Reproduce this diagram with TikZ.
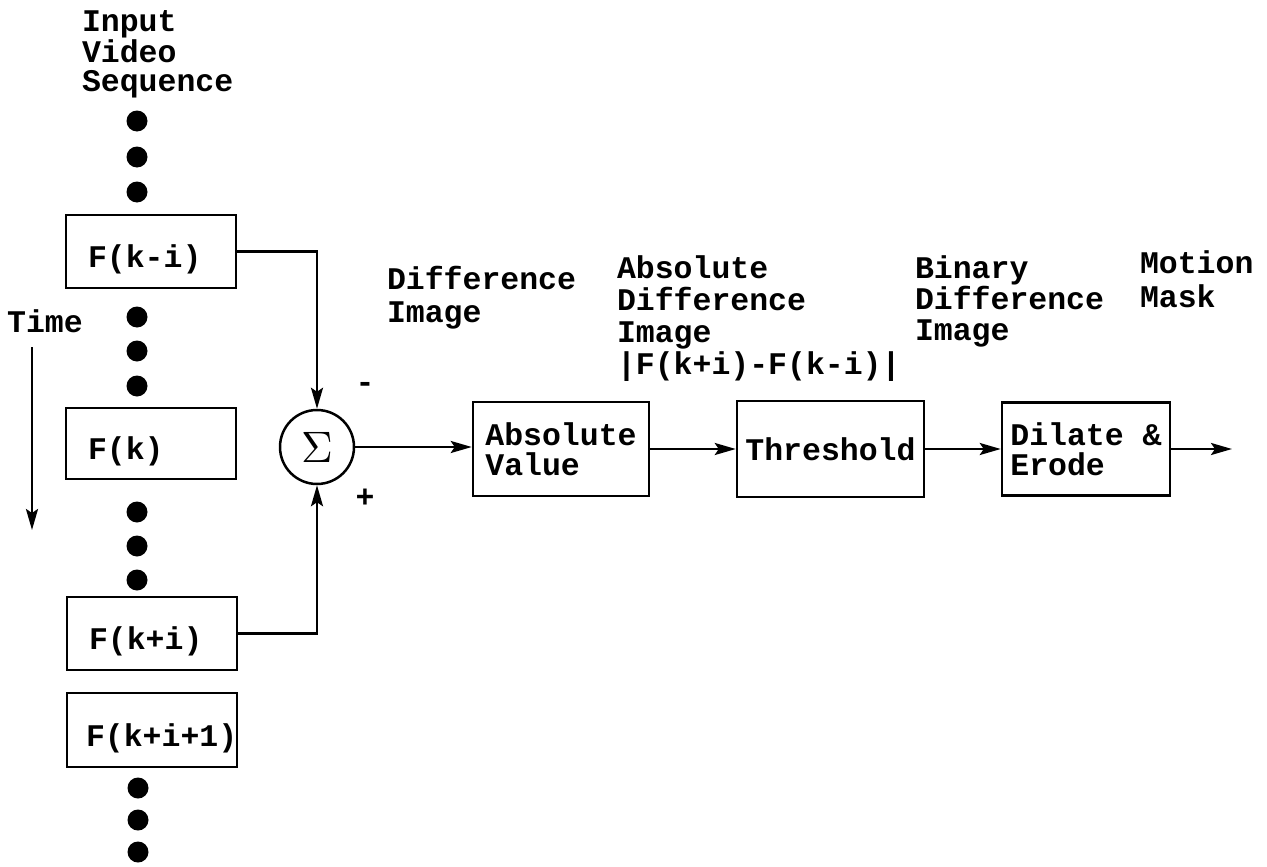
\documentclass[tikz,border=0pt]{standalone}
\usepackage{fontspec}
\usepackage{graphicx}
\setmainfont{Liberation Mono}
\usetikzlibrary{arrows.meta}
\begin{document}
\begin{tikzpicture}[x=1pt,y=-1pt,
  lbl/.style={inner sep=0pt,outer sep=0pt,align=left,anchor=north west,font=\fontsize{31.5}{#1}\selectfont\bfseries},
  lbl/.default=32,
  fbox/.style={draw,line width=2.5pt,minimum height=73pt,text width=126pt,inner xsep=22pt,inner ysep=0pt,align=left,text height=32pt,text depth=0pt,font=\fontsize{31.5}{30}\selectfont\bfseries},
  pbox/.style={draw,line width=2.5pt,inner sep=0pt,align=left,font=\fontsize{31.5}{30}\selectfont\bfseries},
  dot/.style={circle,fill=black,inner sep=0pt,minimum size=21pt},
  tip/.style={-{Stealth[length=21pt,width=12pt,inset=4pt]}},
  arr/.style={line width=2.5pt,tip},
  conn/.style={line width=2.5pt}
]
\useasboundingbox (0,0) rectangle (1267,867);

% title label
\node[lbl=29] (inlbl) at (82,11) {Input\\Video\\Sequence};

% dots
\node[dot] (d1) at (137,121) {};
\node[dot] (d2) at (137,157) {};
\node[dot] (d3) at (137,192) {};
\node[dot] (d4) at (137,317) {};
\node[dot] (d5) at (137,351) {};
\node[dot] (d6) at (137,386) {};
\node[dot] (d7) at (137,512) {};
\node[dot] (d8) at (137,546) {};
\node[dot] (d9) at (137,580) {};
\node[dot] (d10) at (138,788) {};
\node[dot] (d11) at (138,820) {};
\node[dot] (d12) at (138,852) {};

% frame boxes
\node[fbox] (fa) at (151,251.5) {F(k-i)};
\node[fbox,minimum height=71pt] (fk) at (151,443.5) {F(k)};
\node[fbox] (fb) at (152,633.5) {F(k+i)};
\node[fbox,minimum height=74pt,inner xsep=19pt,text width=132pt] (fc) at (152,730) {F(k+i+1)};

% time
\node[inner sep=0pt,anchor=base west,font=\fontsize{31.5}{32}\selectfont\bfseries] (time) at (7,332) {Time};
\coordinate (t1) at (32,347);
\coordinate (t2) at (32,530);
\draw[arr] (t1) -- (t2);

% summation
\node[circle,draw,line width=2.5pt,minimum size=74pt,inner sep=0pt] (sum) at (317,447) {\scalebox{4.4}{$\Sigma$}};
\node[inner sep=0pt,font=\fontsize{31.5}{32}\selectfont\bfseries] (minus) at (365,387) {-};
\node[inner sep=0pt,font=\fontsize{31.5}{32}\selectfont\bfseries] (plus) at (365,498) {+};

% processing boxes
\node[pbox,minimum width=176pt,minimum height=94pt] (abs) at (561,449) {Absolute\\Value};
\node[pbox,minimum width=187pt,minimum height=96pt] (thr) at (830.5,449) {Threshold};
\node[pbox,minimum width=168pt,minimum height=93pt] (dil) at (1086,449) {Dilate \&\\Erode};
\coordinate (out) at (1232,449);

% labels above
\node[lbl=33] (difflbl) at (387,266) {Difference\\Image};
\node[lbl=32] (absdlbl) at (617,256) {Absolute\\Difference\\Image\\|F(k+i)-F(k-i)|};
\node[lbl=31] (binlbl) at (915,256) {Binary\\Difference\\Image};
\node[lbl=34] (motlbl) at (1140,251) {Motion\\Mask};

% connectors
\draw[conn,tip] (fa.east) -| (sum.north);
\draw[conn,tip] (fb.east) -| (sum.south);
\draw[arr] (sum.east) -- (abs.west |- sum.east);
\draw[arr] (abs) -- (thr);
\draw[arr] (thr) -- (dil);
\draw[arr] (dil) -- (out);
\end{tikzpicture}
\end{document}
